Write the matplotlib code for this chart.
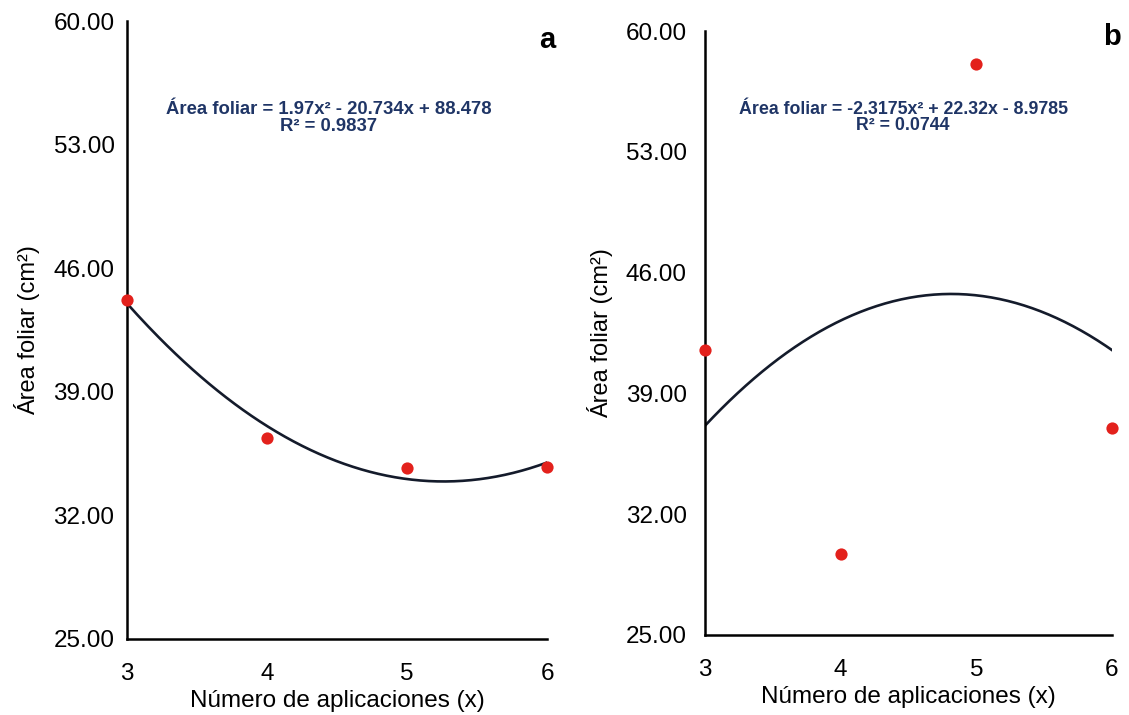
import numpy as np
import matplotlib
matplotlib.use("Agg")
import matplotlib.pyplot as plt

plt.rcParams['font.family'] = ['Liberation Sans', 'DejaVu Sans']

# number of applications (x) and measured leaf area per panel
aplicaciones = [3, 4, 5, 6]
area_a = [44.2, 36.4, 34.7, 34.75]
area_b = [41.5, 29.7, 58.1, 37.0]

# quadratic fits: (a, b, c) for a*x^2 + b*x + c
coef_a = (1.97, -20.734, 88.478)
coef_b = (-2.3175, 22.32, -8.9785)
r2_a = 0.9837
r2_b = 0.0744

y_ticks = [25, 32, 39, 46, 53, 60]
x_ticks = [3, 4, 5, 6]

eq_color = '#1f3566'
pt_color = '#e3211c'
line_color = '#141b2b'


def eq_text(c, r2):
    def term(v, s):
        sign = '-' if v < 0 else '+'
        return f" {sign} {abs(v):g}{s}"
    first = f"{c[0]:g}x²"
    return f"Área foliar = {first}{term(c[1], 'x')}{term(c[2], '')}\nR² = {r2:g}"


def draw_panel(ax, y, coef, r2, letter, eq_pos, eq_size, ytick_pad):
    xs = np.linspace(3, 6, 200)
    ax.plot(xs, np.polyval(coef, xs), color=line_color, lw=1.9, zorder=2)
    ax.plot(aplicaciones, y, 'o', color=pt_color, ms=8.8, mec='none',
            clip_on=False, zorder=3)

    ax.set_xlim(3, 6)
    ax.set_ylim(25, 60)
    ax.set_xticks(x_ticks)
    ax.set_yticks(y_ticks)
    ax.set_yticklabels([f"{v:.2f}" for v in y_ticks])
    for s in ['top', 'right']:
        ax.spines[s].set_visible(False)
    for s in ['left', 'bottom']:
        ax.spines[s].set_linewidth(1.8)
    ax.tick_params(axis='both', length=0, labelsize=17.5)
    ax.tick_params(axis='y', pad=ytick_pad)
    ax.tick_params(axis='x', pad=17)

    ax.set_xlabel("Número de aplicaciones (x)", fontsize=17.5, labelpad=4)
    ax.set_ylabel("Área foliar (cm²)", fontsize=17)

    ax.text(eq_pos[0], eq_pos[1], eq_text(coef, r2), transform=ax.transAxes,
            ha='center', va='center', fontsize=eq_size, fontweight='bold',
            color=eq_color, linespacing=0.95)
    ax.text(1.0, letter_y[letter], letter, transform=ax.transAxes,
            ha='center', va='center', fontsize=21, fontweight='bold')


letter_y = {'a': 0.97, 'b': 0.99}

fig = plt.figure(figsize=(11.29, 7.15), dpi=100)
ax1 = fig.add_axes([0.1125, 0.1063, 0.372, 0.8643])
ax2 = fig.add_axes([0.6244, 0.1119, 0.3605, 0.8447])

draw_panel(ax1, area_a, coef_a, r2_a, 'a', (0.48, 0.843), 13.3, 9)
draw_panel(ax2, area_b, coef_b, r2_b, 'b', (0.487, 0.857), 12.8, 13)

ax1.yaxis.set_label_coords(-0.207, 0.5)
ax2.yaxis.set_label_coords(-0.226, 0.5)

fig.savefig("out.png", dpi=100)
plt.close(fig)
